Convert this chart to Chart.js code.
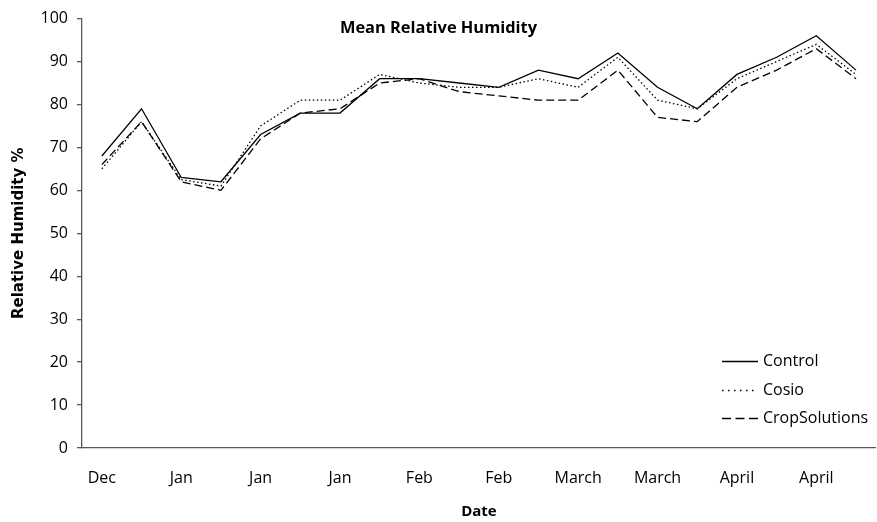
<!DOCTYPE html>
<html>
<head>
<meta charset="utf-8">
<script src="https://cdn.jsdelivr.net/npm/chart.js@4.4.1/dist/chart.umd.min.js"></script>
<style>
  html, body { margin: 0; padding: 0; background: #fff; }
  #wrap { width: 877px; height: 522px; }
</style>
</head>
<body>
<div id="wrap"><canvas id="c" width="877" height="522"></canvas></div>
<script>
// ---- Data ----
const categories = ['Dec','','Jan','','Jan','','Jan','','Feb','','Feb','','March','','March','','April','','April',''];
const controlValues = [68, 79, 63, 62, 73, 78, 78, 86, 86, 85, 84, 88, 86, 92, 84, 79, 87, 91, 96, 88];
const cosioValues = [65, 76, 62.5, 61, 75, 81, 81, 87, 85, 84, 84, 86, 84, 91, 81, 79, 86, 90, 94, 87];
const cropSolutionsValues = [66, 76, 62, 60, 72, 78, 79, 85, 86, 83, 82, 81, 81, 88, 77, 76, 84, 88, 93, 86];
const seriesNames = ['Control', 'Cosio', 'CropSolutions'];
const yTicks = { min: 0, max: 100, step: 10 };
const chartTitle = 'Mean Relative Humidity';
const xTitle = 'Date';
const yTitle = 'Relative Humidity %';

// ---- Styles ----
const FONT = "'Open Sans', 'Liberation Sans', sans-serif";
const YTITLE_FONT = "'DejaVu Sans', sans-serif";
const AXIS_COLOR = '#595959';
const lineStyles = [
  { dash: [], legendDash: [] },
  { dash: [1.5, 2.5], legendDash: [1.5, 4.5] },
  { dash: [8, 4], legendDash: [9, 4.5] }
];

const titlePlugin = {
  id: 'innerTitle',
  afterDraw(chart) {
    const ctx = chart.ctx;
    ctx.save();
    ctx.font = "bold 16.4px " + FONT;
    ctx.fillStyle = '#000';
    ctx.textAlign = 'center';
    ctx.textBaseline = 'middle';
    ctx.fillText(chartTitle, chart.width / 2, 28);
    ctx.restore();
  }
};

const legendPlugin = {
  id: 'innerLegend',
  afterDraw(chart) {
    const ctx = chart.ctx;
    const ys = [361, 390, 418];
    const x0 = 722, x1 = 758, tx = 763;
    ctx.save();
    chart.data.datasets.forEach((ds, i) => {
      ctx.beginPath();
      ctx.setLineDash(lineStyles[i].legendDash);
      ctx.strokeStyle = ds.borderColor;
      ctx.lineWidth = 1.7;
      ctx.moveTo(x0, ys[i] + 0.5);
      ctx.lineTo(x1, ys[i] + 0.5);
      ctx.stroke();
      ctx.setLineDash([]);
      ctx.font = "16px " + FONT;
      ctx.fillStyle = '#000';
      ctx.textAlign = 'left';
      ctx.textBaseline = 'middle';
      ctx.fillText(ds.label, tx, ys[i]);
    });
    ctx.restore();
  }
};

const allValues = [controlValues, cosioValues, cropSolutionsValues];

new Chart(document.getElementById('c'), {
  type: 'line',
  data: {
    labels: categories,
    datasets: allValues.map((vals, i) => ({
      label: seriesNames[i],
      data: vals,
      borderColor: '#000',
      borderWidth: 1.3,
      borderDash: lineStyles[i].dash,
      pointRadius: 0,
      tension: 0,
      fill: false
    }))
  },
  options: {
    responsive: false,
    devicePixelRatio: 1,
    animation: false,
    layout: { padding: { top: 18, right: 0, bottom: 0, left: 0 } },
    plugins: {
      legend: { display: false },
      tooltip: { enabled: false },
      title: { display: false }
    },
    scales: {
      x: {
        type: 'category',
        offset: true,
        grid: { display: false, drawTicks: false },
        border: { display: true, color: AXIS_COLOR, width: 1.3 },
        ticks: {
          autoSkip: false,
          maxRotation: 0,
          minRotation: 0,
          padding: 21,
          color: '#000',
          font: { family: FONT, size: 16 }
        },
        title: {
          display: true,
          text: xTitle,
          color: '#000',
          font: { family: FONT, size: 15, weight: 'bold' },
          padding: { top: 0, bottom: 1 }
        },
        afterFit(scale) { scale.height = 74; }
      },
      y: {
        min: yTicks.min,
        max: yTicks.max,
        grid: { drawOnChartArea: false, drawTicks: true, tickLength: 5, color: AXIS_COLOR, lineWidth: 1.3 },
        border: { display: true, color: AXIS_COLOR, width: 1.3 },
        ticks: {
          stepSize: yTicks.step,
          padding: 9,
          color: '#000',
          font: { family: FONT, size: 16 }
        },
        title: {
          display: true,
          text: yTitle,
          color: '#000',
          font: { family: YTITLE_FONT, size: 15, weight: 'bold' },
          padding: { top: 10, bottom: 0 }
        },
        afterFit(scale) { scale.width = 82; }
      }
    }
  },
  plugins: [titlePlugin, legendPlugin]
});
</script>
</body>
</html>
